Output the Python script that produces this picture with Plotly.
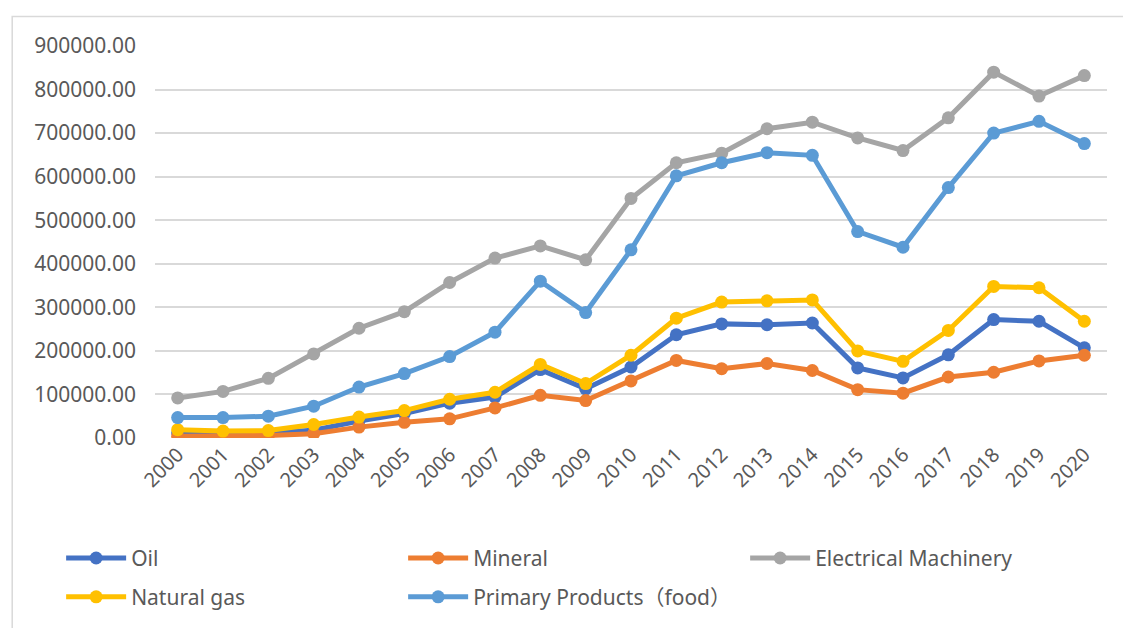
import plotly.graph_objects as go

years = [str(y) for y in range(2000, 2021)]

oil = [12000, 11000, 12000, 18000, 39000, 56000, 80000, 94000, 157000, 113000,
       163000, 237000, 262000, 260000, 264000, 161000, 138000, 191000, 272000, 268000, 207000]
mineral = [4000, 5000, 6000, 10000, 25000, 36000, 44000, 69000, 98000, 86000,
           131000, 178000, 159000, 171000, 155000, 111000, 103000, 140000, 151000, 177000, 190000]
electrical = [92000, 107000, 137000, 193000, 252000, 290000, 357000, 413000, 441000, 409000,
              550000, 632000, 654000, 710000, 725000, 689000, 660000, 735000, 840000, 785000, 832000]
natural_gas = [19000, 16000, 17000, 31000, 48000, 63000, 89000, 105000, 169000, 125000,
               190000, 275000, 312000, 315000, 317000, 200000, 176000, 247000, 348000, 345000, 268000]
primary = [47000, 47000, 50000, 73000, 117000, 148000, 187000, 243000, 360000, 288000,
           432000, 602000, 632000, 655000, 649000, 474000, 438000, 575000, 700000, 727000, 676000]

y_ticks = [0, 100000, 200000, 300000, 400000, 500000, 600000, 700000, 800000, 900000]

FONT = "Noto Sans, Noto Sans CJK SC, sans-serif"
TXT = "#595959"

series = [
    ("Oil", oil, "#4472C4", "legend"),
    ("Mineral", mineral, "#ED7D31", "legend"),
    ("Electrical Machinery", electrical, "#A5A5A5", "legend"),
    ("Natural gas", natural_gas, "#FFC000", "legend2"),
    ("Primary Products（food）", primary, "#5B9BD5", "legend2"),
]

fig = go.Figure()
for name, vals, color, lg in series:
    fig.add_trace(go.Scatter(
        x=list(range(len(years))), y=vals, name=name, mode="lines+markers",
        line=dict(color=color, width=5),
        marker=dict(color=color, size=13),
        legend=lg,
    ))

legend_common = dict(
    orientation="h", xref="paper", yref="paper",
    x=-0.0986, xanchor="left", yanchor="middle",
    entrywidth=267, entrywidthmode="pixels", itemwidth=60,
    font=dict(size=21, color=TXT), bgcolor="rgba(0,0,0,0)",
)

fig.update_layout(
    width=1123, height=628,
    margin=dict(l=155, r=16, t=46, b=190, autoexpand=False),
    paper_bgcolor="white", plot_bgcolor="white",
    font=dict(family=FONT, size=21, color=TXT),
    xaxis=dict(
        range=[-0.5, len(years) - 0.5],
        tickmode="array", tickvals=list(range(len(years))), ticktext=years,
        tickangle=-45, showgrid=False, zeroline=False, showline=False,
        ticks="", tickfont=dict(size=20, color=TXT), automargin=False,
    ),
    yaxis=dict(
        range=[0, 900000], tickvals=y_ticks, tickformat=".2f",
        showgrid=True, gridcolor="#D9D9D9", gridwidth=1.5,
        zeroline=False, showline=False, ticks="",
        ticklabelstandoff=18, tickfont=dict(size=21, color=TXT), automargin=False,
    ),
    legend=dict(legend_common, y=-0.307),
    legend2=dict(legend_common, y=-0.406),
    shapes=[dict(type="rect", xref="paper", yref="paper",
                 x0=-0.150, x1=1.03, y0=-0.6, y1=1.075,
                 line=dict(color="#D9D9D9", width=1.5), fillcolor="rgba(0,0,0,0)",
                 layer="below")],
    showlegend=True,
)

fig.write_html("out.html", config={"displayModeBar": False},
               post_script="document.body.style.margin='0';")
